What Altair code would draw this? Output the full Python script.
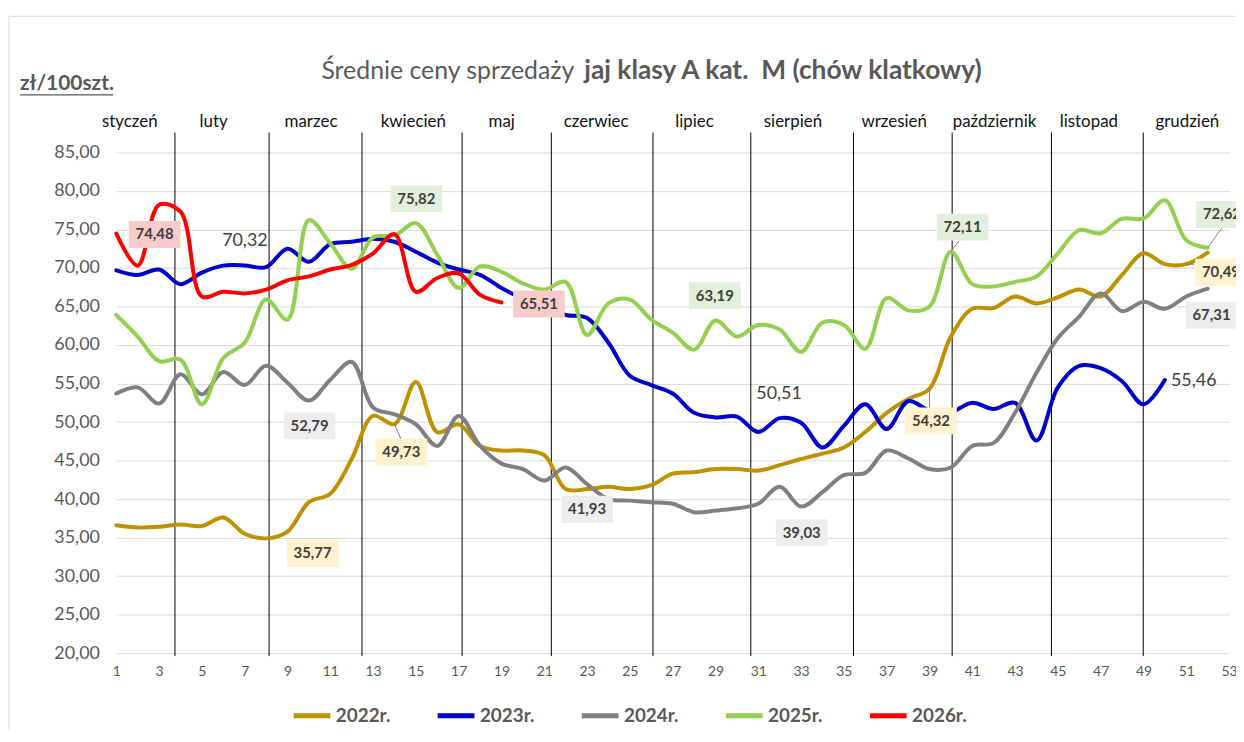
import altair as alt
import pandas as pd

# ---------------- data ----------------
years = ["2022r.", "2023r.", "2024r.", "2025r.", "2026r."]
colors = ["#BF9000", "#0000CC", "#808080", "#92D050", "#FF0000"]

v2022 = [36.6, 36.3, 36.4, 36.7, 36.5, 37.6, 35.5, 34.9, 35.77, 39.6,
         40.7, 45.2, 50.8, 49.73, 55.2, 48.7, 49.7, 46.9, 46.3, 46.3,
         45.7, 41.3, 41.3, 41.6, 41.3, 41.8, 43.3, 43.5, 43.9, 43.9,
         43.7, 44.4, 45.2, 45.9, 46.7, 48.7, 51.2, 53.0, 54.32, 61.1,
         64.7, 64.8, 66.3, 65.4, 66.2, 67.2, 66.3, 69.1, 71.9, 70.5,
         70.49, 72.0]
v2023 = [69.7, 69.1, 69.8, 67.9, 69.4, 70.3, 70.32, 70.1, 72.5, 70.8,
         73.1, 73.4, 73.8, 73.4, 72.1, 70.7, 69.8, 69.1, 67.4, 66.0,
         65.0, 63.9, 63.5, 60.3, 56.0, 54.8, 53.7, 51.2, 50.6, 50.7,
         48.7, 50.51, 49.9, 46.7, 49.5, 52.3, 49.1, 52.7, 51.5, 51.3,
         52.5, 51.7, 52.5, 47.6, 54.5, 57.3, 57.0, 55.3, 52.3, 55.46]
v2024 = [53.7, 54.5, 52.4, 56.2, 53.6, 56.5, 54.8, 57.3, 55.1, 52.79,
         55.5, 57.8, 51.9, 51.0, 49.7, 46.9, 50.8, 46.9, 44.6, 43.9,
         42.4, 44.1, 41.93, 40.0, 39.8, 39.6, 39.4, 38.3, 38.5, 38.8,
         39.4, 41.6, 39.03, 40.9, 43.1, 43.4, 46.3, 45.3, 43.9, 44.1,
         46.9, 47.3, 51.2, 56.4, 60.9, 63.7, 66.7, 64.4, 65.6, 64.7,
         66.3, 67.31]
v2025 = [63.9, 61.1, 57.9, 58.1, 52.3, 58.3, 60.3, 65.9, 63.3, 76.2,
         73.2, 69.9, 74.0, 74.2, 75.82, 71.7, 67.4, 70.2, 69.5, 68.0,
         67.2, 68.2, 61.3, 65.4, 65.9, 63.3, 61.6, 59.4, 63.19, 61.1,
         62.6, 62.0, 59.1, 62.9, 62.6, 59.5, 66.1, 64.5, 65.0, 72.11,
         67.9, 67.6, 68.2, 68.9, 71.9, 74.9, 74.5, 76.4, 76.4, 78.8,
         73.6, 72.62]
v2026 = [74.48, 70.3, 78.2, 77.3, 66.3, 66.9, 66.7, 67.2, 68.4, 68.9,
         69.8, 70.4, 71.9, 74.4, 66.9, 68.7, 69.3, 66.5, 65.51]

months = ["styczeń", "luty", "marzec", "kwiecień", "maj", "czerwiec",
          "lipiec", "sierpień", "wrzesień", "październik", "listopad", "grudzień"]
month_label_week = [1.63, 5.55, 10.1, 14.88, 19.01, 23.42, 28.02, 32.62,
                    37.35, 42.04, 46.45, 51.05]
month_line_week = [3.74, 8.14, 12.48, 17.16, 21.33, 26.08, 30.65, 35.45,
                   40.06, 44.70, 48.99]

# data labels: value shown, series, label centre (week, value units)
label_value = [74.48, 70.32, 75.82, 65.51, 52.79, 35.77, 49.73, 41.93, 63.19,
               50.51, 39.03, 54.32, 72.11, 72.62, 70.49, 67.31, 55.46]
label_series = ["2026r.", "2023r.", "2025r.", "2026r.", "2024r.", "2022r.",
                "2022r.", "2024r.", "2025r.", "2023r.", "2024r.", "2022r.",
                "2025r.", "2025r.", "2022r.", "2024r.", "2023r."]
label_week = [2.79, 7.01, 15.02, 20.75, 10.03, 10.17, 14.32, 23.0, 28.97,
              31.97, 33.03, 39.07, 40.55, 52.67, 52.62, 52.18, 51.35]
label_pos = [74.35, 73.45, 79.0, 65.32, 49.5, 32.94, 46.1, 38.68, 66.42,
             53.65, 35.65, 50.16, 75.3, 76.94, 69.45, 63.84, 55.32]

# leader lines: from data point to label
leader_week = [14, 39, 40, 51, 52]
leader_val = [49.73, 54.32, 72.11, 70.49, 72.62]
leader_week2 = [14.3, 39.0, 40.37, 51.37, 52.67]
leader_val2 = [47.8, 51.6, 73.5, 70.49, 75.2]

title_a = "Średnie ceny sprzedaży"
title_b = "jaj klasy A kat.\u00a0\u00a0M (chów klatkowy)"
unit_text = "zł/100szt."

# ---------------- tables ----------------
rows = []
for yr, vals in zip(years, [v2022, v2023, v2024, v2025, v2026]):
    for i, v in enumerate(vals):
        rows.append({"year": yr, "week": i + 1, "value": v})
df = pd.DataFrame(rows)

bg_map = {"2022r.": "#FFF2CC", "2023r.": "transparent", "2024r.": "#EDEDED",
          "2025r.": "#E2EFDA", "2026r.": "#F8CBCB"}
labels = pd.DataFrame({
    "txt": [f"{v:.2f}".replace(".", ",") for v in label_value],
    "series": label_series,
    "lw": label_week,
    "lv": label_pos,
})
labels["bg"] = labels["series"].map(bg_map)
labels_bold = labels[labels["series"] != "2023r."]
labels_plain = labels[labels["series"] == "2023r."]

leaders = pd.DataFrame({"w": leader_week, "v": leader_val,
                        "w2": leader_week2, "v2": leader_val2})
mlabels = pd.DataFrame({"m": months, "w": month_label_week})
mlines = pd.DataFrame({"w": month_line_week})

FONT = "Lato"
xscale = alt.Scale(domain=[1, 53], nice=False, zero=False)
yscale = alt.Scale(domain=[20, 85], nice=False, zero=False)
xaxis = alt.Axis(values=list(range(1, 54, 2)), title=None, grid=False,
                 domain=False, ticks=False, tickSize=0, labelPadding=11,
                 labelFont=FONT, labelFontSize=14, labelColor="#595959",
                 labelOverlap=False, labelFlush=False)
yaxis = alt.Axis(values=list(range(20, 90, 5)), title=None, domain=False,
                 ticks=False, tickSize=0, labelPadding=17,
                 labelExpr="replace(format(datum.value, '.2f'), '.', ',')",
                 gridColor="#D9D9D9", gridWidth=1, labelFont=FONT,
                 labelFontSize=18, labelColor="#595959")


def X(f):
    return alt.X(f, type="quantitative", scale=xscale, axis=xaxis)


def Y(f):
    return alt.Y(f, type="quantitative", scale=yscale, axis=yaxis)


border = alt.Chart(pd.DataFrame({"a": [0]})).mark_rect(
    fill="transparent", stroke="#D9D9D9", strokeWidth=1
).encode(x=alt.value(-108), x2=alt.value(1135), y=alt.value(-137), y2=alt.value(600))

month_rules = alt.Chart(mlines).mark_rule(color="#000000", strokeWidth=1).encode(
    x=X("w"), y=alt.value(-20), y2=alt.value(507))

month_text = alt.Chart(mlabels).mark_text(
    font=FONT, fontSize=17, color="#111111", baseline="middle", align="center"
).encode(x=X("w"), y=alt.value(-31), text="m:N")

lines = alt.Chart(df).mark_line(
    interpolate="catmull-rom", strokeWidth=4, strokeCap="round", strokeJoin="round"
).encode(
    x=X("week"), y=Y("value"),
    color=alt.Color("year:N", scale=alt.Scale(domain=years, range=colors),
                    legend=alt.Legend(
                        title=None, orient="none", legendX=176, legendY=546,
                        direction="horizontal", columns=5, symbolType="stroke",
                        symbolStrokeWidth=5, symbolSize=1369, labelOffset=3,
                        columnPadding=37, labelFont=FONT,
                        labelFontSize=19, labelFontWeight="bold",
                        labelColor="#595959")),
    detail="year:N",
)

leader_rules = alt.Chart(leaders).mark_rule(color="#7F7F7F", strokeWidth=1).encode(
    x=X("w"), y=Y("v"), x2="w2", y2="v2")

boxes = alt.Chart(labels_bold).mark_point(
    shape="M-1,-0.52L1,-0.52L1,0.52L-1,0.52Z", filled=True, size=2704,
    opacity=1, strokeWidth=0
).encode(x=X("lw"), y=Y("lv"), fill=alt.Fill("bg:N", scale=None))

text_bold = alt.Chart(labels_bold).mark_text(
    font=FONT, fontSize=15, fontWeight="bold", color="#404040", baseline="middle"
).encode(x=X("lw"), y=Y("lv"), text="txt:N")

text_plain = alt.Chart(labels_plain).mark_text(
    font=FONT, fontSize=18, color="#404040", baseline="middle"
).encode(x=X("lw"), y=Y("lv"), text="txt:N")

tA = alt.Chart(pd.DataFrame({"t": [title_a]})).mark_text(
    font=FONT, fontSize=25, color="#595959", align="right", baseline="middle"
).encode(x=alt.value(461), y=alt.value(-82), text="t:N")
tB = alt.Chart(pd.DataFrame({"t": [title_b]})).mark_text(
    font=FONT, fontSize=26.5, fontWeight="bold", color="#595959", align="left",
    baseline="middle"
).encode(x=alt.value(471), y=alt.value(-82), text="t:N")
unit = alt.Chart(pd.DataFrame({"t": [unit_text]})).mark_text(
    font=FONT, fontSize=21, fontWeight="bold", color="#595959", align="left",
    baseline="middle"
).encode(x=alt.value(-97), y=alt.value(-69), text="t:N")
unit_line = alt.Chart(pd.DataFrame({"a": [0]})).mark_rule(
    color="#595959", strokeWidth=1.2
).encode(x=alt.value(-97), x2=alt.value(-3), y=alt.value(-58))

chart = alt.layer(
    border, month_rules, lines, leader_rules, boxes, text_bold, text_plain,
    month_text, tA, tB, unit, unit_line
).properties(
    width=1120, height=504,
    autosize=alt.AutoSizeParams(type="none"),
    padding={"left": 109, "top": 143, "right": 7, "bottom": 76},
    background="white",
).configure_view(stroke=None)

chart.save("out.html", embed_options={"renderer": "svg", "actions": False})
